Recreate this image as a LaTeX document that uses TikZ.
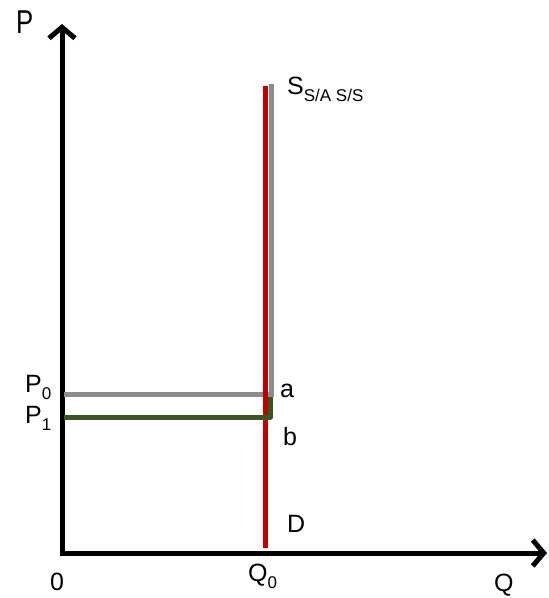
\documentclass[tikz,border=0pt]{standalone}
\usepackage{fontspec}
\setmainfont{Liberation Sans}
\usetikzlibrary{arrows.meta}
\definecolor{curveRed}{RGB}{192, 0, 0}
\definecolor{curveGray}{RGB}{140, 140, 140}
\definecolor{curveGreen}{RGB}{55, 86, 35}
\newcommand{\lowsub}[1]{\raisebox{-7pt}{\fontsize{17}{20}\selectfont #1}}

\begin{document}
\begin{tikzpicture}[x=1pt, y=-1pt,
    font=\fontsize{25}{30}\selectfont,
    axis/.style={line width=5pt, {Straight Barb[length=11pt,width=26pt]}-{Straight Barb[length=11pt,width=26pt]}},
    curve/.style={line width=5pt},
    lbl/.style={anchor=base west, inner sep=0pt}]
  \useasboundingbox (0,0) rectangle (549,598);

  % axes
  \coordinate (ytop) at (62,24);
  \coordinate (O) at (62,553);
  \coordinate (xend) at (547,553);
  \draw[axis] (ytop) -- (O) -- (xend);

  % supply (gray) with price P0
  \coordinate (p0) at (64,394);
  \coordinate (a) at (271,394);
  \coordinate (stop) at (271,84);
  \draw[curve, curveGray] (p0) -- (a) -- (stop);

  % demand (red)
  \coordinate (dtop) at (265,86);
  \coordinate (dbot) at (265,548);
  \draw[curve, curveRed] (dtop) -- (dbot);

  % price P1 (green)
  \coordinate (p1) at (64,417);
  \coordinate (b) at (270,417);
  \coordinate (bup) at (270,397);
  \draw[curve, curveGreen, line join=round] (p1) -- (b) -- (bup);

  % labels
  \node[lbl, font=\fontsize{33}{36}\selectfont, xscale=0.78] (lblP) at (16,33) {P};
  \node[lbl] (lblS) at (287,94) {S\lowsub{S/A S/S}};
  \node[lbl] (lblA) at (280,397) {a};
  \node[lbl] (lblB) at (283,445) {b};
  \node[lbl] (lblD) at (287,532) {D};
  \node[lbl] (lblP0) at (25,392) {P\lowsub{0}};
  \node[lbl] (lblP1) at (25,423) {P\lowsub{1}};
  \node[lbl] (lblZero) at (50,590) {0};
  \node[lbl] (lblQ0) at (248,581) {Q\lowsub{0}};
  \node[lbl] (lblQ) at (494,591) {Q};
\end{tikzpicture}
\end{document}
